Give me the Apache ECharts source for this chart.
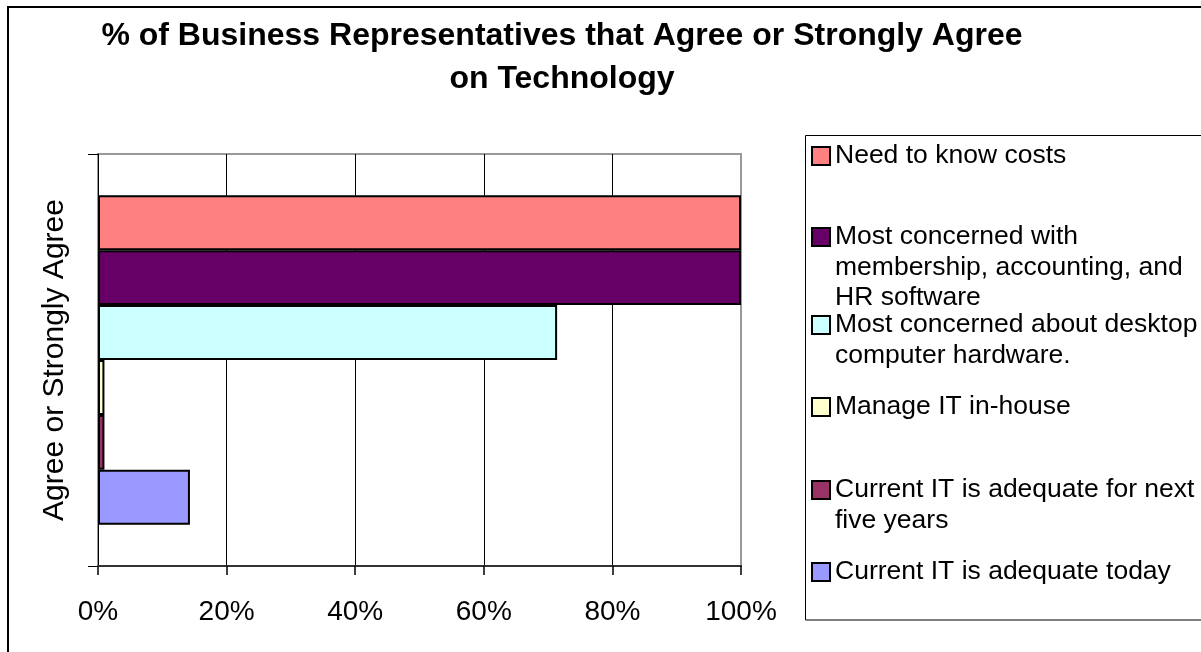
<!DOCTYPE html>
<html>
<head>
<meta charset="utf-8">
<script src="https://cdn.jsdelivr.net/npm/echarts@6.0.0/dist/echarts.min.js"></script>
<style>
  html, body { margin: 0; background: #fff; }
  #chart { width: 1201px; height: 652px; }
</style>
</head>
<body>
<div id="chart"></div>
<script>
const FONT = "'Liberation Sans', Arial, sans-serif";

const categories = ["Agree or Strongly Agree"];
const seriesNames = [
  "Need to know costs",
  "Most concerned with membership, accounting, and HR software",
  "Most concerned about desktop computer hardware.",
  "Manage IT in-house",
  "Current IT is adequate for next five years",
  "Current IT is adequate today"
];
const seriesValues = [100, 100, 71.4, 1, 1, 14.3];
const seriesColors = ["#FF8080", "#660066", "#CCFFFF", "#FFFFCC", "#993366", "#9999FF"];
// how the legend wraps each name
const legendLabels = [
  "Need to know costs",
  "Most concerned with\nmembership, accounting, and\nHR software",
  "Most concerned about desktop\ncomputer hardware.",
  "Manage IT in-house",
  "Current IT is adequate for next\nfive years",
  "Current IT is adequate today"
];
const xTickStep = 20;

// y of the first text line of each legend entry
const legendRowY = [156, 237, 325, 407, 490, 572];
const LH = 30.5;

const chart = echarts.init(document.getElementById("chart"));

// one legend per entry so each row sits where excel put it;
// blank lines on top keep the swatch level with the first line
const legends = seriesNames.map((name, i) => {
  const n = legendLabels[i].split("\n").length;
  const text = "\n".repeat(n - 1) + legendLabels[i];
  return {
    data: [name],
    orient: "vertical",
    left: 811,
    top: legendRowY[i] - (2 * n - 1) * LH / 2,
    padding: 0,
    itemWidth: 18,
    itemHeight: 18,
    icon: "rect",
    selectedMode: false,
    itemStyle: { borderColor: "#000", borderWidth: 2 },
    formatter: () => text,
    textStyle: { fontSize: 26.5, lineHeight: LH, color: "#000", fontFamily: FONT }
  };
});

const option = {
  animation: false,
  backgroundColor: "#fff",
  textStyle: { fontFamily: FONT },
  title: {
    text: "% of Business Representatives that Agree or Strongly Agree\non Technology",
    left: 562,
    top: 15,
    padding: 0,
    textAlign: "center",
    textStyle: { fontSize: 32, fontWeight: "bold", lineHeight: 43, color: "#000", fontFamily: FONT }
  },
  legend: legends,
  graphic: [
    { type: "rect", shape: { x: 8, y: 7, width: 1300, height: 700 }, style: { fill: "none", stroke: "#000", lineWidth: 2 }, silent: true },
    { type: "rect", shape: { x: 805.5, y: 135.5, width: 420, height: 484.5 }, style: { fill: "none", stroke: "#000", lineWidth: 1 }, silent: true }
  ],
  grid: {
    left: 98, top: 154, width: 643, height: 412,
    show: true, borderColor: "#999", borderWidth: 2, backgroundColor: "#fff",
    containLabel: false, outerBoundsMode: "none"
  },
  xAxis: {
    type: "value",
    min: 0, max: 100, interval: xTickStep,
    axisLine: { show: true, lineStyle: { color: "#333", width: 2 } },
    axisTick: { show: true, length: 9, lineStyle: { color: "#000", width: 1.5 } },
    axisLabel: { formatter: "{value}%", fontSize: 28, color: "#000", margin: 32, fontFamily: FONT },
    splitLine: { show: true, showMaxLine: false, lineStyle: { color: "#000", width: 1 } }
  },
  yAxis: {
    type: "category",
    data: categories,
    axisLine: { show: true, lineStyle: { color: "#000", width: 1 } },
    axisTick: { show: true, length: 10, lineStyle: { color: "#000", width: 1 } },
    axisLabel: { rotate: 90, fontSize: 30, color: "#000", margin: 28, fontFamily: FONT },
    splitLine: { show: false }
  },
  series: seriesNames.map((name, i) => ({
    name: name,
    type: "bar",
    data: [seriesValues[i]],
    barGap: "0%",
    barCategoryGap: "20%",
    silent: true,
    itemStyle: { color: seriesColors[i], borderColor: "#000", borderWidth: 2 }
  }))
};
chart.setOption(option);
</script>
</body>
</html>
